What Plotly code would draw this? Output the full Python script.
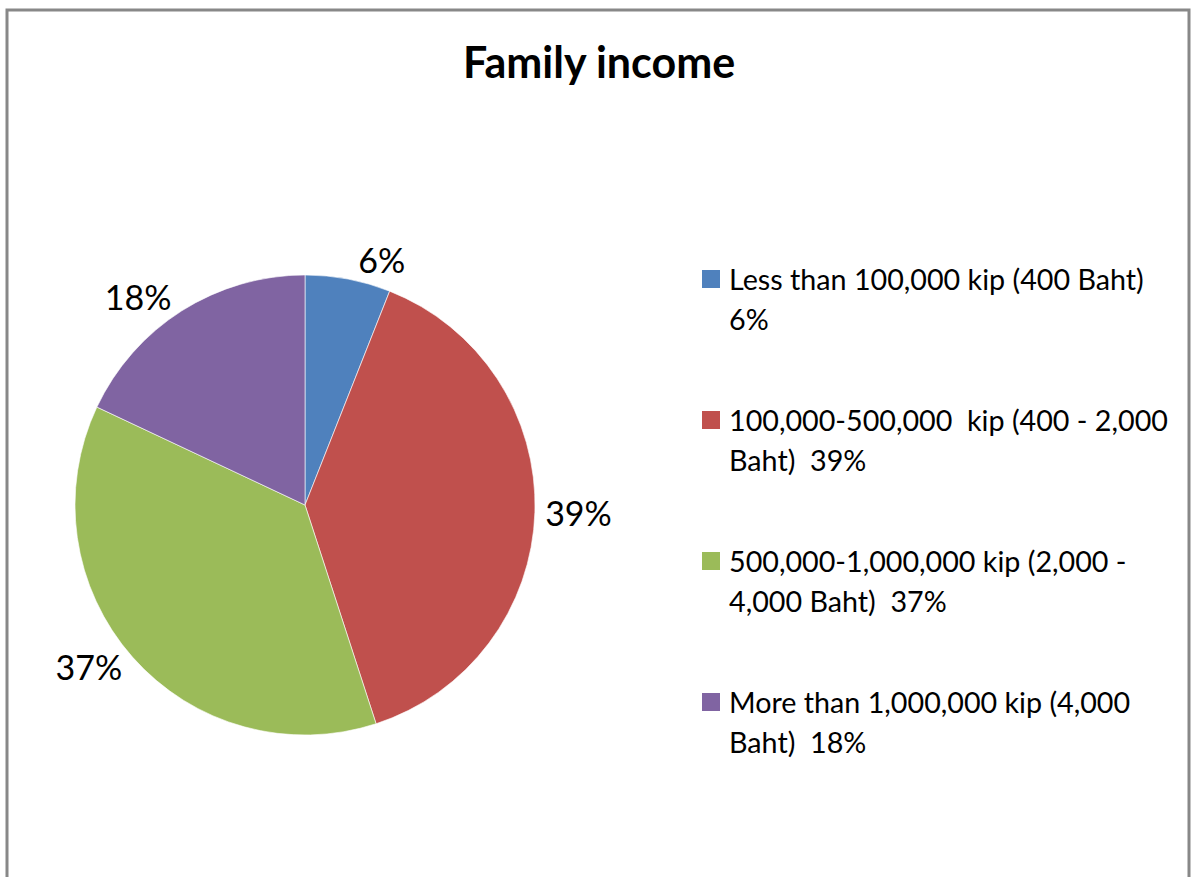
import plotly.graph_objects as go

# ---- data ----
categories = [
    "Less than 100,000 kip (400 Baht)",
    "100,000-500,000  kip (400 - 2,000 Baht)",
    "500,000-1,000,000 kip (2,000 - 4,000 Baht)",
    "More than 1,000,000 kip (4,000 Baht)",
]
values = [6, 39, 37, 18]
legend_line1 = [
    "Less than 100,000 kip (400 Baht)",
    "100,000-500,000  kip (400 - 2,000",
    "500,000-1,000,000 kip (2,000 -",
    "More than 1,000,000 kip (4,000",
]
legend_line2 = [
    "6%",
    "Baht)  39%",
    "4,000 Baht)  37%",
    "Baht)  18%",
]
colors = ["#4F81BD", "#C0504D", "#9BBB59", "#8064A2"]
title_text = "Family income"

# ---- layout helpers ----
W, H = 1193, 877
FONT = "Lato"


def px(x):
    return x / W


def py(y):
    return 1 - y / H


cx, cy, r = 305, 505, 230

fig = go.Figure()
fig.add_trace(go.Pie(
    labels=categories,
    values=values,
    sort=False,
    direction="clockwise",
    rotation=0,
    marker=dict(colors=colors, line=dict(color="rgba(255,255,255,0.6)", width=1)),
    texttemplate="%{percent:.0%}",
    textposition="outside",
    textfont=dict(family=FONT, size=34, color="#000000"),
    domain=dict(x=[px(cx - r), px(cx + r)], y=[py(cy + r), py(cy - r)]),
    showlegend=False,
    hoverinfo="label+percent",
))

annotations = []
shapes = []
# title
annotations.append(dict(
    text="<b>%s</b>" % title_text, x=px(599), y=py(62), xref="paper", yref="paper",
    xanchor="center", yanchor="middle", showarrow=False,
    font=dict(family=FONT, size=43, color="#000000"),
))

# custom legend
top0, step, lgap = 279, 141, 40
sq = 18
for i in range(len(categories)):
    yc = top0 + i * step
    shapes.append(dict(
        type="rect", xref="paper", yref="paper",
        x0=px(702), x1=px(702 + sq), y0=py(yc + sq / 2), y1=py(yc - sq / 2),
        fillcolor=colors[i], line=dict(width=0),
    ))
    for j, txt in enumerate([legend_line1[i], legend_line2[i]]):
        annotations.append(dict(
            text=txt, x=px(727), y=py(yc + j * lgap), xref="paper", yref="paper",
            xanchor="left", yanchor="middle", showarrow=False,
            font=dict(family=FONT, size=28.7, color="#000000"),
        ))

# border
shapes.append(dict(
    type="rect", xref="paper", yref="paper",
    x0=px(7), x1=px(1189), y0=py(10), y1=py(900),
    line=dict(color="#888888", width=3), fillcolor="rgba(0,0,0,0)", layer="above",
))

fig.update_layout(
    width=W, height=H,
    margin=dict(l=0, r=0, t=0, b=0),
    paper_bgcolor="#FFFFFF",
    plot_bgcolor="#FFFFFF",
    annotations=annotations,
    shapes=shapes,
    font=dict(family=FONT),
)

fig.write_html(
    "out.html",
    config={"displayModeBar": False},
    post_script="document.body.style.margin='0';document.body.style.overflow='hidden';",
)
